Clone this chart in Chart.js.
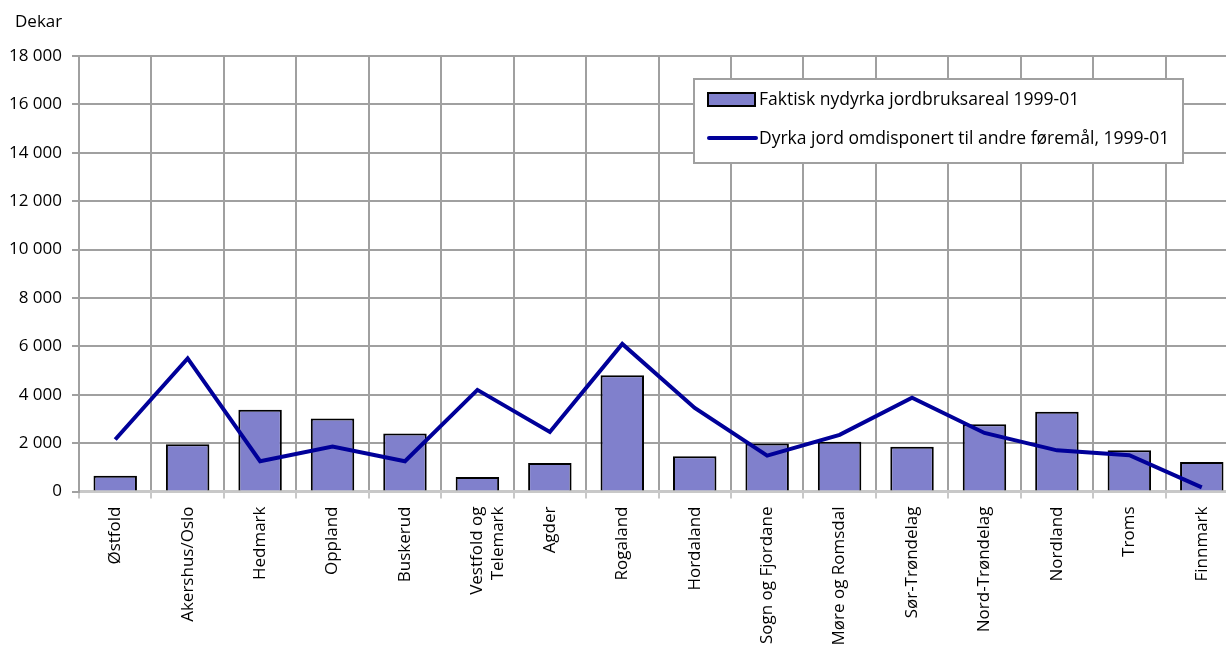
<!DOCTYPE html>
<html>
<head>
<meta charset="utf-8">
<script src="https://cdn.jsdelivr.net/npm/chart.js@4.4.0/dist/chart.umd.min.js"></script>
<style>
  html, body { margin: 0; padding: 0; background: #fff; overflow: hidden; }
  #wrap { width: 1240px; height: 650px; }
</style>
</head>
<body>
<div id="wrap"><canvas id="myChart" width="1240" height="650"></canvas></div>
<script>
// data
var fylker = ["Østfold", "Akershus/Oslo", "Hedmark", "Oppland", "Buskerud", ["Vestfold og", "Telemark"],
  "Agder", "Rogaland", "Hordaland", "Sogn og Fjordane", "Møre og Romsdal", "Sør-Trøndelag",
  "Nord-Trøndelag", "Nordland", "Troms", "Finnmark"];
var nydyrka = [650, 1950, 3380, 3020, 2400, 600, 1180, 4800, 1460, 1980, 2060, 1850, 2780, 3300, 1700, 1220];
var omdisponert = [2150, 5500, 1250, 1860, 1250, 4200, 2460, 6100, 3450, 1480, 2340, 3880, 2420, 1700, 1500, 170];
var yMax = 18000;
var yStep = 2000;
var yUnit = "Dekar";

var FONT = "'Open Sans', sans-serif";
var GRID = "#a0a0a0";

function tusen(v) {
  return String(v).replace(/\B(?=(\d{3})+(?!\d))/g, " ");
}

// legend box in the upper right, drawn on top of the grid
var legendBox = {
  id: "legendBox",
  afterDraw: function (chart) {
    var c = chart.ctx;
    var x = 694, y = 79, w = 489, h = 84;
    c.save();
    c.fillStyle = "#fff";
    c.fillRect(x, y, w, h);
    c.strokeStyle = GRID;
    c.lineWidth = 2;
    c.strokeRect(x, y, w, h);

    var bar = chart.data.datasets[0];
    var line = chart.data.datasets[1];
    c.fillStyle = bar.backgroundColor;
    c.fillRect(708, 93, 47, 13);
    c.strokeStyle = "#000";
    c.lineWidth = 2;
    c.strokeRect(708, 93, 47, 13);

    c.strokeStyle = line.borderColor;
    c.lineWidth = 4;
    c.lineCap = "round";
    c.beginPath();
    c.moveTo(709, 138);
    c.lineTo(756, 138);
    c.stroke();

    c.fillStyle = "#000";
    c.font = "17.5px " + FONT;
    c.textBaseline = "middle";
    c.textAlign = "left";
    c.fillText(bar.label, 759, 100);
    c.fillText(line.label, 759, 139);
    c.restore();
  }
};

var unitLabel = {
  id: "unitLabel",
  afterDraw: function (chart) {
    var c = chart.ctx;
    c.save();
    c.fillStyle = "#000";
    c.font = "17px " + FONT;
    c.textAlign = "left";
    c.textBaseline = "middle";
    c.fillText(yUnit, 15, 22);
    c.restore();
  }
};

var ctx = document.getElementById("myChart").getContext("2d");
var myChart = new Chart(ctx, {
  type: "bar",
  data: {
    labels: fylker,
    datasets: [{
      type: "bar",
      label: "Faktisk nydyrka jordbruksareal 1999-01",
      data: nydyrka,
      backgroundColor: "#8080cc",
      borderColor: "#000",
      borderWidth: 2,
      borderSkipped: "bottom",
      barPercentage: 0.6,
      categoryPercentage: 1,
      order: 2
    }, {
      type: "line",
      label: "Dyrka jord omdisponert til andre føremål, 1999-01",
      data: omdisponert,
      borderColor: "#000099",
      borderWidth: 4,
      pointRadius: 0,
      fill: false,
      tension: 0,
      order: 1
    }]
  },
  options: {
    responsive: false,
    animation: false,
    layout: { padding: { top: 56, right: 2, left: 0, bottom: 0 } },
    plugins: {
      legend: { display: false },
      tooltip: { enabled: false }
    },
    scales: {
      x: {
        offset: true,
        grid: { offset: true, color: GRID, lineWidth: 2, tickLength: 7, tickColor: "#c8c8c8" },
        border: { color: "#c8c8c8", width: 3 },
        ticks: {
          autoSkip: false,
          minRotation: 90,
          maxRotation: 90,
          padding: 8,
          color: "#000",
          font: { family: FONT, size: 17 }
        },
        afterFit: function (scale) { scale.height = 158.5; }
      },
      y: {
        min: 0,
        max: yMax,
        grid: { color: GRID, lineWidth: 2, tickLength: 7, tickColor: GRID },
        border: { color: GRID, width: 2 },
        ticks: {
          stepSize: yStep,
          padding: 10,
          color: "#000",
          font: { family: FONT, size: 17 },
          callback: function (v) { return tusen(v); }
        },
        afterFit: function (scale) { scale.width = 79; }
      }
    }
  },
  plugins: [legendBox, unitLabel]
});
</script>
</body>
</html>
